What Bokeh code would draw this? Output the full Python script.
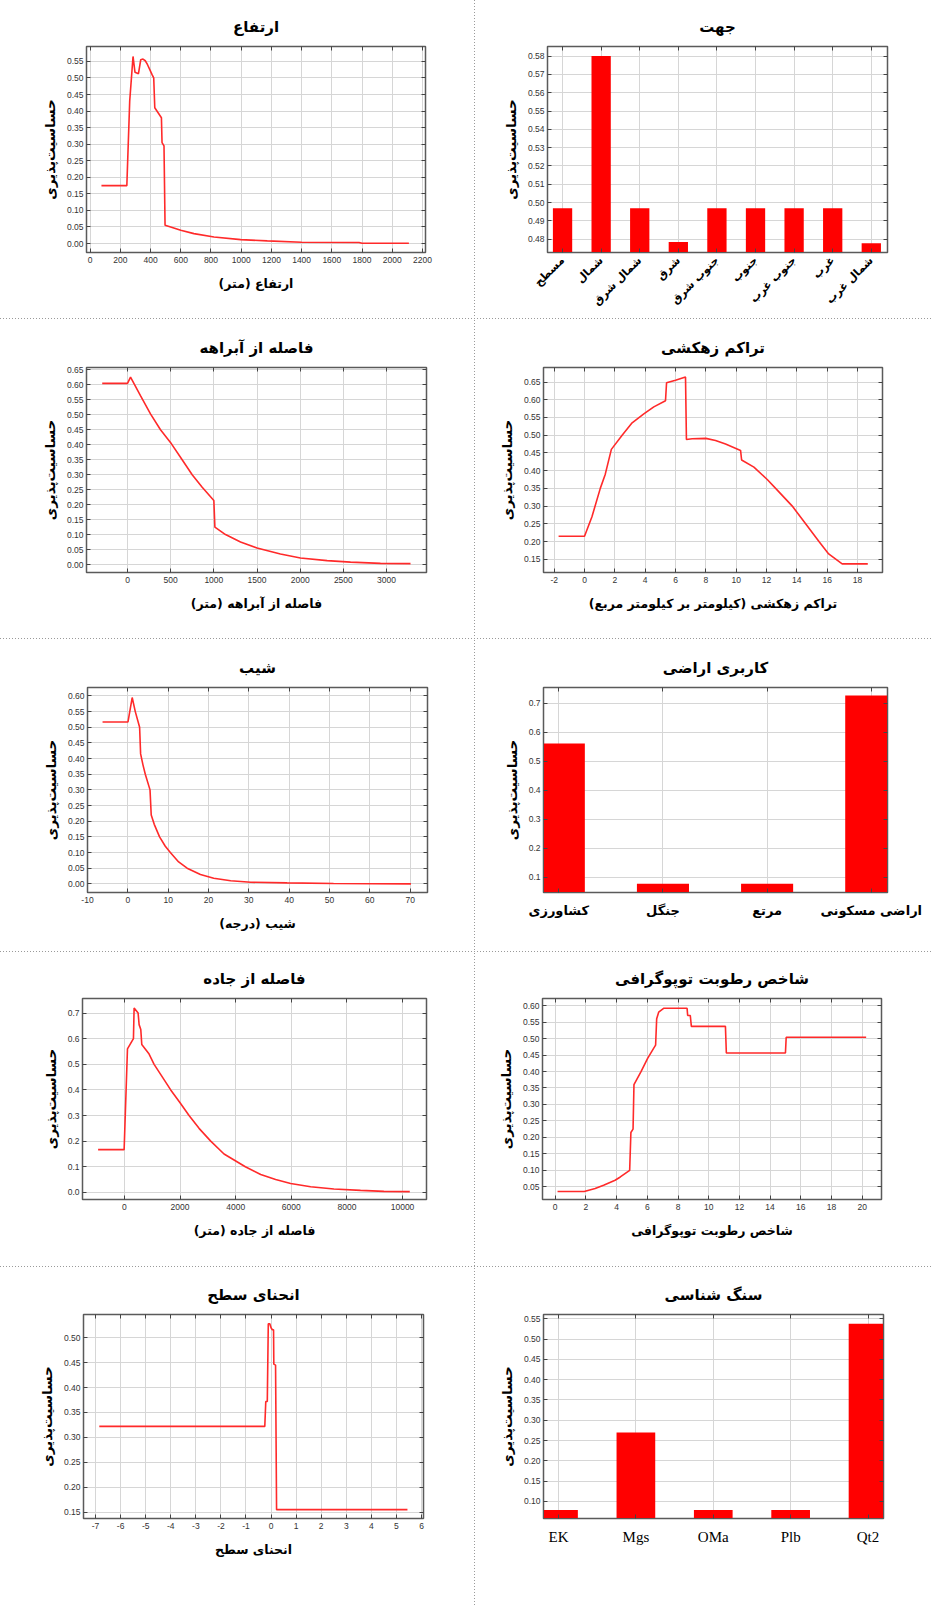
import math
from bokeh.plotting import figure
from bokeh.models import FixedTicker, LinearAxis, PrintfTickFormatter, Range1d, Div
from bokeh.layouts import row, column
from bokeh.embed import file_html
from bokeh.resources import INLINE

RLM = "\u200f"
YLAB = "حساسیت\u200cپذیری"

# ---------------- data ----------------
elev_x = [75, 243, 262, 284, 297, 320, 335, 350, 365, 380, 395, 410, 421, 428, 450, 472, 476, 489, 496, 533, 600, 687, 820, 997, 1173, 1400, 1780, 1800, 2110]
elev_y = [0.175, 0.175, 0.43, 0.565, 0.517, 0.513, 0.555, 0.557, 0.552, 0.54, 0.525, 0.51, 0.50, 0.41, 0.395, 0.38, 0.305, 0.295, 0.055, 0.05, 0.04, 0.03, 0.02, 0.012, 0.008, 0.004, 0.003, 0.001, 0.001]

aspect_cat = ["مسطح", "شمال", "شمال شرق", "شرق", "جنوب شرق", "جنوب", "جنوب غرب", "غرب", "شمال غرب"]
aspect_val = [0.497, 0.580, 0.497, 0.4785, 0.497, 0.497, 0.497, 0.497, 0.4778]

stream_x = [-293, 0, 35, 150, 266, 382, 509, 633, 749, 865, 1000, 1012, 1135, 1309, 1500, 1771, 2003, 2312, 2583, 2930, 3278]
stream_y = [0.605, 0.605, 0.626, 0.564, 0.503, 0.45, 0.403, 0.35, 0.30, 0.258, 0.214, 0.125, 0.10, 0.075, 0.055, 0.035, 0.022, 0.013, 0.008, 0.004, 0.003]

dd_x = [-1.71, 0.0, 0.49, 1.04, 1.37, 1.77, 2.48, 3.14, 3.91, 4.57, 5.34, 5.41, 6.0, 6.66, 6.72, 7.1, 8.0, 8.64, 9.3, 10.29, 10.36, 11.17, 12.05, 12.82, 13.7, 14.58, 15.46, 16.1, 16.99, 18.68]
dd_y = [0.215, 0.215, 0.27, 0.35, 0.39, 0.46, 0.50, 0.535, 0.56, 0.58, 0.597, 0.648, 0.655, 0.664, 0.488, 0.49, 0.491, 0.485, 0.475, 0.457, 0.43, 0.41, 0.375, 0.34, 0.30, 0.25, 0.20, 0.165, 0.137, 0.137]

slope_x = [-6.27, 0.04, 1.08, 1.85, 2.92, 3.17, 3.75, 4.33, 5.5, 5.8, 6.55, 7.87, 9.29, 10.54, 12.6, 14.7, 18.0, 21.3, 25.5, 30.5, 39.5, 51, 70.2]
slope_y = [0.517, 0.517, 0.595, 0.55, 0.50, 0.415, 0.38, 0.35, 0.30, 0.22, 0.19, 0.15, 0.12, 0.10, 0.07, 0.05, 0.03, 0.018, 0.01, 0.005, 0.003, 0.001, 0.0]

landuse_cat = ["کشاورزی", "جنگل", "مرتع", "اراضی مسکونی"]
landuse_val = [0.562, 0.078, 0.078, 0.727]

road_x = [-948, -12, 108, 323, 347, 491, 527, 587, 623, 886, 1066, 1365, 1663, 1999, 2323, 2682, 3102, 3581, 4347, 4899, 5437, 5976, 6695, 7531, 8490, 9330, 10261]
road_y = [0.167, 0.167, 0.56, 0.60, 0.72, 0.70, 0.655, 0.636, 0.577, 0.54, 0.50, 0.45, 0.40, 0.35, 0.30, 0.25, 0.20, 0.15, 0.10, 0.07, 0.05, 0.035, 0.022, 0.013, 0.008, 0.004, 0.003]

twi_x = [0.15, 1.89, 2.6, 3.15, 3.9, 4.24, 4.85, 4.93, 5.07, 5.13, 5.59, 6.02, 6.41, 6.54, 6.61, 6.74, 7.06, 8.59, 8.63, 8.8, 8.87, 11.09, 11.15, 15.0, 15.05, 20.26]
twi_y = [0.036, 0.036, 0.045, 0.055, 0.07, 0.08, 0.10, 0.215, 0.225, 0.36, 0.40, 0.44, 0.47, 0.48, 0.56, 0.58, 0.592, 0.592, 0.57, 0.57, 0.537, 0.537, 0.456, 0.456, 0.504, 0.504]

curv_x = [-6.85, -0.25, -0.21, -0.15, -0.11, -0.05, 0.0, 0.05, 0.10, 0.11, 0.18, 0.22, 5.44]
curv_y = [0.322, 0.322, 0.372, 0.372, 0.528, 0.528, 0.52, 0.516, 0.516, 0.447, 0.445, 0.155, 0.155]

litho_cat = ["EK", "Mgs", "OMa", "Plb", "Qt2"]
litho_val = [0.079, 0.270, 0.079, 0.079, 0.538]

# tick values
elev_xt = [0, 200, 400, 600, 800, 1000, 1200, 1400, 1600, 1800, 2000, 2200]
elev_yt = [0.0, 0.05, 0.10, 0.15, 0.20, 0.25, 0.30, 0.35, 0.40, 0.45, 0.50, 0.55]
aspect_yt = [0.48, 0.49, 0.50, 0.51, 0.52, 0.53, 0.54, 0.55, 0.56, 0.57, 0.58]
stream_xt = [0, 500, 1000, 1500, 2000, 2500, 3000]
stream_yt = [0.0, 0.05, 0.10, 0.15, 0.20, 0.25, 0.30, 0.35, 0.40, 0.45, 0.50, 0.55, 0.60, 0.65]
dd_xt = [-2, 0, 2, 4, 6, 8, 10, 12, 14, 16, 18]
dd_yt = [0.15, 0.20, 0.25, 0.30, 0.35, 0.40, 0.45, 0.50, 0.55, 0.60, 0.65]
slope_xt = [-10, 0, 10, 20, 30, 40, 50, 60, 70]
slope_yt = [0.0, 0.05, 0.10, 0.15, 0.20, 0.25, 0.30, 0.35, 0.40, 0.45, 0.50, 0.55, 0.60]
landuse_yt = [0.1, 0.2, 0.3, 0.4, 0.5, 0.6, 0.7]
road_xt = [0, 2000, 4000, 6000, 8000, 10000]
road_yt = [0.0, 0.1, 0.2, 0.3, 0.4, 0.5, 0.6, 0.7]
twi_xt = [0, 2, 4, 6, 8, 10, 12, 14, 16, 18, 20]
twi_yt = [0.05, 0.10, 0.15, 0.20, 0.25, 0.30, 0.35, 0.40, 0.45, 0.50, 0.55, 0.60]
curv_xt = [-7, -6, -5, -4, -3, -2, -1, 0, 1, 2, 3, 4, 5, 6]
curv_yt = [0.15, 0.20, 0.25, 0.30, 0.35, 0.40, 0.45, 0.50]
litho_yt = [0.10, 0.15, 0.20, 0.25, 0.30, 0.35, 0.40, 0.45, 0.50, 0.55]

# ---------------- styling ----------------
FA = "DejaVu Sans"
TICKF = "Liberation Sans"
LINE_C = "#ff2a2a"
FRAME_C = "#5a5a5a"
GRID_C = "#d6d6d6"


def panel(title, w, h, borders, xr, yr, xt, yt, xfmt, yfmt, xlabel=None):
    l, r, t, b = borders
    p = figure(width=w, height=h, output_backend="svg", toolbar_location=None,
               x_range=Range1d(*xr), y_range=Range1d(*yr),
               min_border_left=l, min_border_right=r, min_border_top=t, min_border_bottom=b)
    p.background_fill_color = "white"
    p.border_fill_color = "white"
    p.outline_line_color = FRAME_C
    p.outline_line_width = 1.5
    p.title.text = title
    p.title.align = "center"
    p.title.text_font = FA
    p.title.text_font_size = "15px"
    p.title.text_font_style = "bold"
    p.title.text_color = "black"
    p.title.standoff = 22

    for ax, ticks, fmt in ((p.xaxis[0], xt, xfmt), (p.yaxis[0], yt, yfmt)):
        ax.ticker = FixedTicker(ticks=ticks)
        ax.formatter = PrintfTickFormatter(format=fmt)
        ax.major_tick_in = 4
        ax.major_tick_out = 0
        ax.minor_tick_line_color = None
        ax.major_tick_line_color = "#444"
        ax.axis_line_color = FRAME_C
        ax.major_label_text_font = TICKF
        ax.major_label_text_font_size = "8.5px"
        ax.major_label_text_color = "#333"
        ax.axis_label_text_font = FA
        ax.axis_label_text_font_style = "bold"
        ax.axis_label_text_color = "black"
    p.xaxis[0].axis_label_text_font_size = "12.5px"
    p.yaxis[0].axis_label_text_font_size = "13.5px"
    p.xaxis[0].major_label_standoff = 4
    p.yaxis[0].major_label_standoff = 3
    p.yaxis[0].axis_label = YLAB
    p.yaxis[0].axis_label_standoff = 6
    if xlabel:
        p.xaxis[0].axis_label = xlabel
        p.xaxis[0].axis_label_standoff = 10

    # inner tick marks on the top and right edges (no labels)
    for side, ticks in (("above", xt), ("right", yt)):
        ax = LinearAxis(ticker=FixedTicker(ticks=ticks), major_tick_in=4, major_tick_out=0,
                        major_label_text_font_size="1px", major_label_text_color=None,
                        major_label_standoff=0,
                        minor_tick_line_color=None, major_tick_line_color="#444",
                        axis_line_color=FRAME_C)
        p.add_layout(ax, side)

    p.xgrid.grid_line_color = GRID_C
    p.ygrid.grid_line_color = GRID_C
    return p


LW, RW = 474, 458
H1, H2, H3, H4, H5 = 318, 318, 311, 313, 337

# Row 1
p1 = panel("ارتفاع", LW, H1, (86, 49, 46, 66), (-24, 2220), (-0.027, 0.595),
           elev_xt, elev_yt, "%d", "%.2f", "ارتفاع (متر)" + RLM)
p1.line(elev_x, elev_y, line_color=LINE_C, line_width=1.6)

idx9 = list(range(1, len(aspect_cat) + 1))
p2 = panel("جهت", RW, H1, (72, 46, 46, 66), (0.61, 9.42), (0.4728, 0.5852),
           idx9, aspect_yt, "%d", "%.2f")
p2.vbar(x=idx9, top=aspect_val, bottom=0, width=0.5, fill_color="#ff0000", line_color=None)
ax2 = p2.below[0]
ax2.major_label_overrides = {i: c for i, c in zip(idx9, aspect_cat)}
ax2.major_label_orientation = math.pi / 4
ax2.major_label_text_font = FA
ax2.major_label_text_font_style = "bold"
ax2.major_label_text_font_size = "11px"
ax2.major_label_text_color = "black"
ax2.major_label_standoff = 6

# Row 2
p3 = panel("فاصله از آبراهه", LW, H2, (86, 48, 47, 66), (-475, 3463), (-0.0266, 0.658),
           stream_xt, stream_yt, "%d", "%.2f", "فاصله از آبراهه (متر)" + RLM)
p3.line(stream_x, stream_y, line_color=LINE_C, line_width=1.6)

p4 = panel("تراکم زهکشی", RW, H2, (68, 51, 47, 66), (-2.705, 19.65), (0.1126, 0.691),
           dd_xt, dd_yt, "%d", "%.2f", "تراکم زهکشی (کیلومتر بر کیلومتر مربع)" + RLM)
p4.line(dd_x, dd_y, line_color=LINE_C, line_width=1.6)

# Row 3
p5 = panel("شیب", LW, H3, (87, 47, 47, 58), (-10, 74.3), (-0.0277, 0.627),
           slope_xt, slope_yt, "%d", "%.2f", "شیب (درجه)" + RLM)
p5.line(slope_x, slope_y, line_color=LINE_C, line_width=1.6)

idx4 = list(range(1, len(landuse_cat) + 1))
p6 = panel("کاربری اراضی", RW, H3, (68, 46, 47, 59), (0.853, 4.156), (0.048, 0.755),
           idx4, landuse_yt, "%d", "%.1f")
p6.vbar(x=idx4, top=landuse_val, bottom=0, width=0.5, fill_color="#ff0000", line_color=None)
ax6 = p6.below[0]
ax6.major_label_overrides = {i: c for i, c in zip(idx4, landuse_cat)}
ax6.major_label_text_font = FA
ax6.major_label_text_font_style = "bold"
ax6.major_label_text_font_size = "13px"
ax6.major_label_text_color = "black"
ax6.major_label_standoff = 10

# Row 4
p7 = panel("فاصله از جاده", LW, H4, (82, 48, 45, 62), (-1509, 10862), (-0.0278, 0.757),
           road_xt, road_yt, "%d", "%.1f", "فاصله از جاده (متر)" + RLM)
p7.line(road_x, road_y, line_color=LINE_C, line_width=1.6)

p8 = panel("شاخص رطوبت توپوگرافی", RW, H4, (67, 52, 40, 67), (-0.83, 21.26), (0.0116, 0.6216),
           twi_xt, twi_yt, "%d", "%.2f", "شاخص رطوبت توپوگرافی")
p8.line(twi_x, twi_y, line_color=LINE_C, line_width=1.6)

# Row 5
p9 = panel("انحنای سطح", LW, H5, (83, 51, 46, 86), (-7.48, 6.08), (0.1372, 0.5466),
           curv_xt, curv_yt, "%d", "%.2f", "انحنای سطح")
p9.line(curv_x, curv_y, line_color=LINE_C, line_width=1.6)

idx5 = list(range(1, len(litho_cat) + 1))
p10 = panel("سنگ شناسی", RW, H5, (68, 50, 44, 87), (0.806, 5.2), (0.0578, 0.5605),
            idx5, litho_yt, "%d", "%.2f")
p10.vbar(x=idx5, top=litho_val, bottom=0, width=0.5, fill_color="#ff0000", line_color=None)
ax10 = p10.below[0]
ax10.major_label_overrides = {i: c for i, c in zip(idx5, litho_cat)}
ax10.major_label_text_font = "Liberation Serif"
ax10.major_label_text_font_size = "15px"
ax10.major_label_text_color = "black"
ax10.major_label_standoff = 10


def vsep(h):
    return Div(text="", width=1, height=h, margin=(0, 0, 0, 0),
               styles={"background-image": "repeating-linear-gradient(to bottom, #9a9a9a 0px, #9a9a9a 1px, transparent 1px, transparent 3px)"})


def hsep():
    return Div(text="", width=LW + 1 + RW, height=2, margin=(0, 0, 0, 0),
               styles={"background-image": "repeating-linear-gradient(to right, #9a9a9a 0px, #9a9a9a 1px, transparent 1px, transparent 3px)",
                       "background-size": "100% 1px", "background-repeat": "no-repeat"})


layout = column(
    row(p1, vsep(H1), p2, spacing=0),
    hsep(),
    row(p3, vsep(H2), p4, spacing=0),
    hsep(),
    row(p5, vsep(H3), p6, spacing=0),
    hsep(),
    row(p7, vsep(H4), p8, spacing=0),
    hsep(),
    row(p9, vsep(H5), p10, spacing=0),
    spacing=0,
)

open("out.html", "w").write(file_html(layout, INLINE))
